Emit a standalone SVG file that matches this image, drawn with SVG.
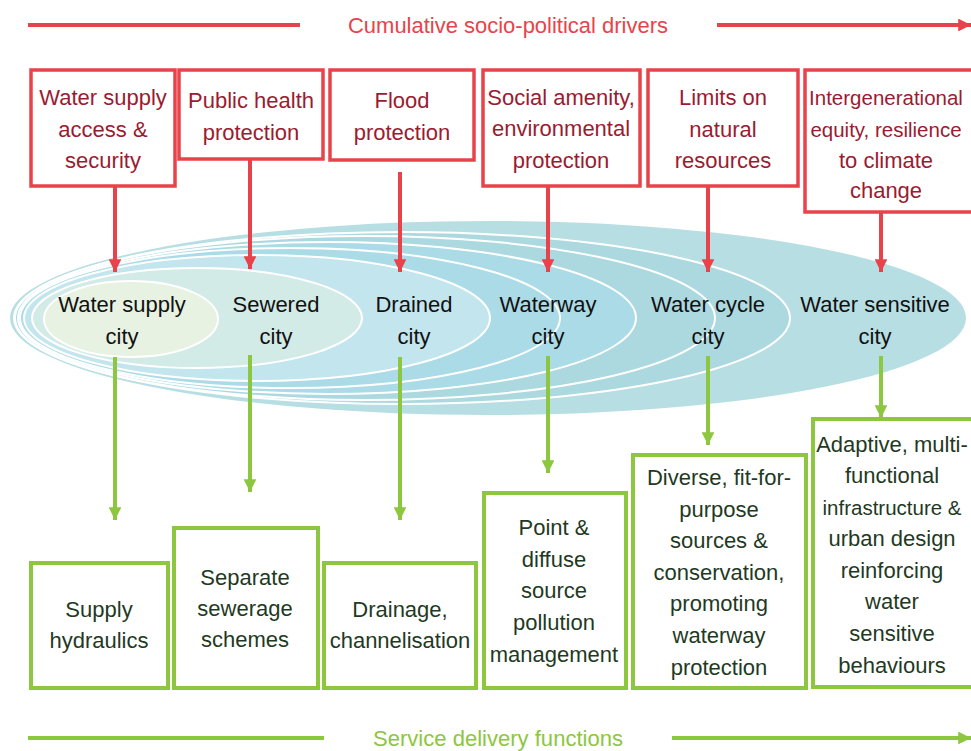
<svg xmlns="http://www.w3.org/2000/svg" width="971" height="751" viewBox="0 0 971 751">
  <style>
    text { font-family: "Liberation Sans", Arial, sans-serif; font-size: 22px; text-anchor: middle; }
    .drv rect { fill: #ffffff; stroke: #e8434a; stroke-width: 3.5; }
    .drv text { fill: #9b1b30; }
    .svc rect { fill: #ffffff; stroke: #8dc63f; stroke-width: 4; }
    .svc text { fill: #1f3a1f; }
    .city text { fill: #111111; }
    .red { stroke: #e8434a; stroke-width: 4; fill: none; }
    .grn { stroke: #8dc63f; stroke-width: 4; fill: none; }
    .ring { stroke: #ffffff; stroke-width: 2; }
    .tight { font-size: 20.5px; }
  </style>
  <defs>
    <marker id="ahRed" viewBox="0 0 10 10" refX="10" refY="5" markerWidth="3.2" markerHeight="3.2" orient="auto" markerUnits="strokeWidth">
      <path d="M0,0 L10,5 L0,10 z" fill="#e8434a"/>
    </marker>
    <marker id="ahGrn" viewBox="0 0 10 10" refX="10" refY="5" markerWidth="3.2" markerHeight="3.2" orient="auto" markerUnits="strokeWidth">
      <path d="M0,0 L10,5 L0,10 z" fill="#8dc63f"/>
    </marker>
  </defs>

  <rect width="971" height="751" fill="#ffffff"/>

  <!-- top banner: drivers -->
  <g id="drivers-axis">
    <line class="red" x1="28" y1="25" x2="300" y2="25"/>
    <line class="red" x1="717" y1="25" x2="971" y2="25" marker-end="url(#ahRed)"/>
    <text x="508" y="33" fill="#e8434a" textLength="320" lengthAdjust="spacingAndGlyphs">Cumulative socio-political drivers</text>
  </g>

  <!-- nested city transition ellipses -->
  <g id="city-ellipses">
    <ellipse cx="488" cy="318" rx="478" ry="97" fill="#b7dee3"/>
    <ellipse class="ring" cx="402" cy="318" rx="388" ry="86" fill="#acd9e0"/>
    <ellipse class="ring" cx="365" cy="318" rx="350" ry="82" fill="none" stroke-width="1.2"/>
    <ellipse class="ring" cx="327" cy="318" rx="309" ry="76" fill="#aadbe6"/>
    <ellipse class="ring" cx="290" cy="318" rx="270" ry="70" fill="none" stroke-width="1.2"/>
    <ellipse class="ring" cx="257" cy="318" rx="233" ry="63" fill="#c3e5ee"/>
    <ellipse class="ring" cx="197" cy="318" rx="165" ry="50" fill="#d3ebe7"/>
    <ellipse class="ring" cx="131" cy="319" rx="87" ry="38" fill="#e7f2e2"/>
  </g>

  <!-- driver boxes -->
  <g id="drv-1" class="drv">
    <rect x="31" y="70" width="144" height="116"/>
    <text x="103" y="105">Water supply</text>
    <text x="103" y="137">access &amp;</text>
    <text x="103" y="168">security</text>
  </g>
  <g id="drv-2" class="drv">
    <rect x="179" y="70" width="144" height="89"/>
    <text x="251" y="108">Public health</text>
    <text x="251" y="140">protection</text>
  </g>
  <g id="drv-3" class="drv">
    <rect x="330" y="70" width="144" height="90"/>
    <text x="402" y="108">Flood</text>
    <text x="402" y="140">protection</text>
  </g>
  <g id="drv-4" class="drv">
    <rect x="483" y="70" width="157" height="116"/>
    <text x="561" y="105">Social amenity,</text>
    <text x="561" y="136">environmental</text>
    <text x="561" y="168">protection</text>
  </g>
  <g id="drv-5" class="drv">
    <rect x="648" y="70" width="150" height="116"/>
    <text x="723" y="105">Limits on</text>
    <text x="723" y="137">natural</text>
    <text x="723" y="168">resources</text>
  </g>
  <g id="drv-6" class="drv">
    <rect x="805" y="70" width="175" height="142"/>
    <text class="tight" x="886" y="105">Intergenerational</text>
    <text class="tight" x="886" y="137">equity, resilience</text>
    <text x="886" y="168">to climate</text>
    <text x="886" y="198">change</text>
  </g>

  <!-- city labels -->
  <g id="city-1" class="city">
    <text x="122" y="312">Water supply</text>
    <text x="122" y="344">city</text>
  </g>
  <g id="city-2" class="city">
    <text x="276" y="312">Sewered</text>
    <text x="276" y="344">city</text>
  </g>
  <g id="city-3" class="city">
    <text x="414" y="312">Drained</text>
    <text x="414" y="344">city</text>
  </g>
  <g id="city-4" class="city">
    <text x="548" y="312">Waterway</text>
    <text x="548" y="344">city</text>
  </g>
  <g id="city-5" class="city">
    <text x="708" y="312">Water cycle</text>
    <text x="708" y="344">city</text>
  </g>
  <g id="city-6" class="city">
    <text x="875" y="312">Water sensitive</text>
    <text x="875" y="344">city</text>
  </g>

  <!-- service delivery boxes -->
  <g id="svc-1" class="svc">
    <rect x="31" y="563" width="137" height="125"/>
    <text x="99" y="617">Supply</text>
    <text x="99" y="648">hydraulics</text>
  </g>
  <g id="svc-2" class="svc">
    <rect x="174" y="528" width="144" height="160"/>
    <text x="245" y="585">Separate</text>
    <text x="245" y="616">sewerage</text>
    <text x="245" y="647">schemes</text>
  </g>
  <g id="svc-3" class="svc">
    <rect x="324" y="563" width="152" height="125"/>
    <text x="400" y="617">Drainage,</text>
    <text x="400" y="648">channelisation</text>
  </g>
  <g id="svc-4" class="svc">
    <rect x="484" y="493" width="142" height="195"/>
    <text x="554" y="535">Point &amp;</text>
    <text x="554" y="567">diffuse</text>
    <text x="554" y="598">source</text>
    <text x="554" y="630">pollution</text>
    <text x="554" y="662">management</text>
  </g>
  <g id="svc-5" class="svc">
    <rect x="633" y="455" width="173" height="233"/>
    <text x="719" y="485">Diverse, fit-for-</text>
    <text x="719" y="517">purpose</text>
    <text x="719" y="548">sources &amp;</text>
    <text x="719" y="580">conservation,</text>
    <text x="719" y="611">promoting</text>
    <text x="719" y="643">waterway</text>
    <text x="719" y="675">protection</text>
  </g>
  <g id="svc-6" class="svc">
    <rect x="813" y="419" width="170" height="268"/>
    <text x="892" y="452">Adaptive, multi-</text>
    <text x="892" y="483">functional</text>
    <text class="tight" x="892" y="515">infrastructure &amp;</text>
    <text x="892" y="546">urban design</text>
    <text x="892" y="578">reinforcing</text>
    <text x="892" y="609">water</text>
    <text x="892" y="641">sensitive</text>
    <text x="892" y="673">behaviours</text>
  </g>

  <!-- connectors -->
  <g id="connectors">
    <line class="red" x1="115" y1="187" x2="115" y2="272" marker-end="url(#ahRed)"/>
    <line class="red" x1="250" y1="160" x2="250" y2="269" marker-end="url(#ahRed)"/>
    <line class="red" x1="400" y1="172" x2="400" y2="272" marker-end="url(#ahRed)"/>
    <line class="red" x1="548" y1="187" x2="548" y2="272" marker-end="url(#ahRed)"/>
    <line class="red" x1="708" y1="187" x2="708" y2="272" marker-end="url(#ahRed)"/>
    <line class="red" x1="881" y1="213" x2="881" y2="272" marker-end="url(#ahRed)"/>

    <line class="grn" x1="115" y1="357" x2="115" y2="520" marker-end="url(#ahGrn)"/>
    <line class="grn" x1="250" y1="355" x2="250" y2="492" marker-end="url(#ahGrn)"/>
    <line class="grn" x1="400" y1="357" x2="400" y2="520" marker-end="url(#ahGrn)"/>
    <line class="grn" x1="548" y1="356" x2="548" y2="473" marker-end="url(#ahGrn)"/>
    <line class="grn" x1="708" y1="356" x2="708" y2="445" marker-end="url(#ahGrn)"/>
    <line class="grn" x1="881" y1="356" x2="881" y2="418" marker-end="url(#ahGrn)"/>
  </g>

  <!-- bottom banner: service delivery -->
  <g id="service-axis">
    <line class="grn" x1="28" y1="738" x2="324" y2="738"/>
    <line class="grn" x1="672" y1="738" x2="971" y2="738" marker-end="url(#ahGrn)"/>
    <text x="498" y="746" fill="#8dc63f" textLength="250" lengthAdjust="spacingAndGlyphs">Service delivery functions</text>
  </g>
</svg>
